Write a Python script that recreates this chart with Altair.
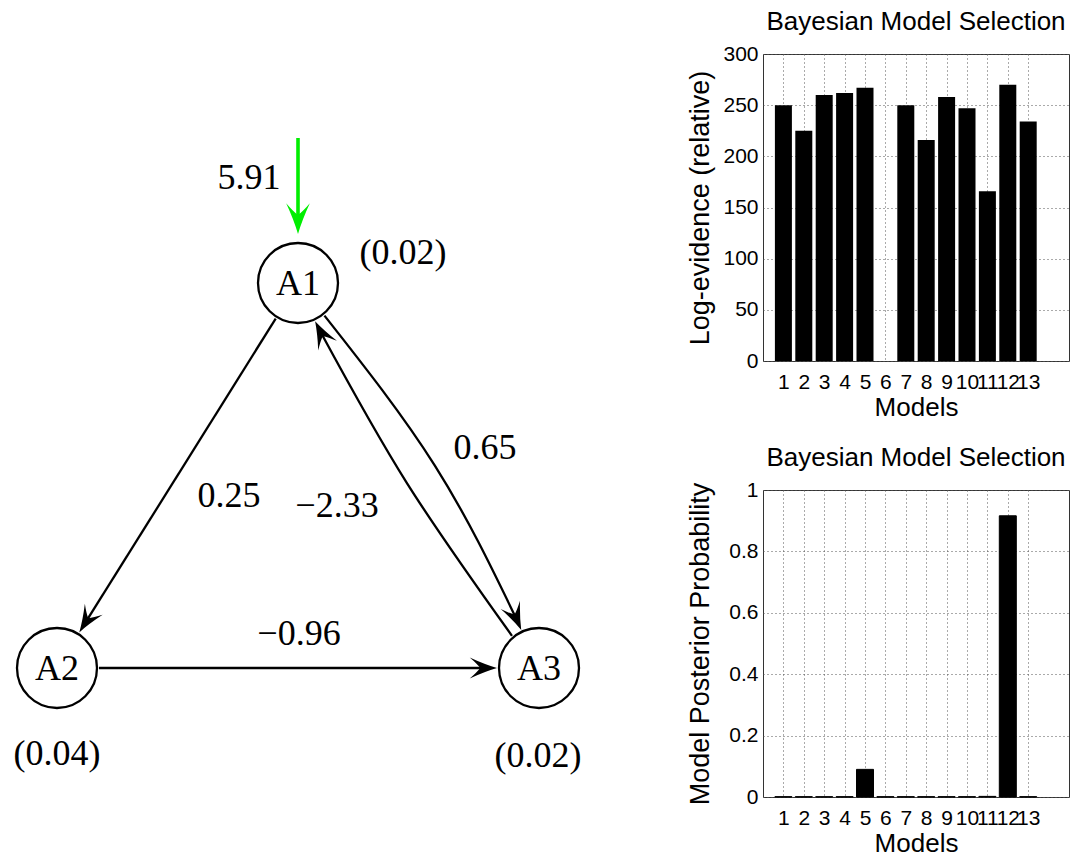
import math
import altair as alt
import pandas as pd

# ---------------- data ----------------
models = [1, 2, 3, 4, 5, 6, 7, 8, 9, 10, 11, 12, 13]
log_evidence = [250, 225, 260, 262, 267, 0, 250, 216, 258, 247, 166, 270, 234]
posterior = [0.001, 0.001, 0.001, 0.001, 0.09, 0.001, 0.001, 0.001, 0.001, 0.001, 0.002, 0.916, 0.001]

node_names = ["A1", "A2", "A3"]
self_conn = ["(0.02)", "(0.04)", "(0.02)"]
edge_from = ["A1", "A2", "A1", "A3"]
edge_to = ["A2", "A3", "A3", "A1"]
edge_weight = ["0.25", "\u22120.96", "0.65", "\u22122.33"]
input_node = "A1"
input_weight = "5.91"

# ---------------- diagram layout (page pixels) ----------------
node_x = [297, 56, 538]
node_y = [282, 667, 667]
self_x = [402, 56, 537]
self_y = [252, 753, 755]
edge_bend = [0, 0, 7, 8]        # degrees the ends are rotated (bend left)
edge_bulge = [0, 0, 14, 8]      # pixels of bulge at the middle
weight_x = [228, 298, 484, 336]
weight_y = [495, 633, 447, 505]
input_top = 137
input_gap = 49
input_label_x, input_label_y = 248, 177

R_NODE = 40
R_EDGE = 42
HEAD_BACK = 12
ARROW = "M0,0 Q-12,-3.5 -26,-10 Q-19,-4 -16,0 Q-19,4 -26,10 Q-12,3.5 0,0 Z"

LW, LH = 675, 780
X0 = 8          # page x of the diagram panel's left edge
Y0 = 53         # page y of the diagram panel's top edge (aligned with the bar plot top)
SERIF = "Liberation Serif"
SANS = "Liberation Sans"
DFONT = 36

pos = {n: (x, y) for n, x, y in zip(node_names, node_x, node_y)}

line_rows, head_rows = [], []
for k, (s, d) in enumerate(zip(edge_from, edge_to)):
    xs, ys = pos[s]
    xd, yd = pos[d]
    th = math.atan2(yd - ys, xd - xs)
    a = math.radians(edge_bend[k])
    sx, sy = xs + R_EDGE * math.cos(th - a), ys + R_EDGE * math.sin(th - a)
    tx, ty = xd + R_EDGE * math.cos(th + math.pi + a), yd + R_EDGE * math.sin(th + math.pi + a)
    cmx, cmy = (sx + tx) / 2, (sy + ty) / 2
    L = math.hypot(tx - sx, ty - sy)
    ux, uy = (tx - sx) / L, (ty - sy) / L
    nx, ny = uy, -ux
    mx, my = cmx + edge_bulge[k] * nx, cmy + edge_bulge[k] * ny
    cx, cy = 2 * mx - cmx, 2 * my - cmy
    dl = math.hypot(tx - cx, ty - cy)
    dx, dy = (tx - cx) / dl, (ty - cy) / dl
    ex, ey = tx - HEAD_BACK * dx, ty - HEAD_BACK * dy
    pts = [(sx, sy), (mx, my), (ex, ey)] if edge_bulge[k] else [(sx, sy), (ex, ey)]
    for i, (px, py) in enumerate(pts):
        line_rows.append({"edge": k, "seq": i, "x": px, "y": py})
    head_rows.append({"x": tx, "y": ty, "angle": math.degrees(math.atan2(dy, dx)) % 360})

ix, iy = pos[input_node]
input_tip = iy - input_gap
input_df = pd.DataFrame({"edge": [0, 0], "seq": [0, 1], "x": [ix, ix],
                         "y": [input_top, input_tip - HEAD_BACK]})
input_head_df = pd.DataFrame({"x": [ix], "y": [input_tip], "angle": [90]})

X = alt.X("x:Q", scale=alt.Scale(domain=[X0, X0 + LW], nice=False, zero=False), axis=None)
Y = alt.Y("y:Q", scale=alt.Scale(domain=[Y0, Y0 + LH], nice=False, zero=False, reverse=True), axis=None)

edges = alt.Chart(pd.DataFrame(line_rows)).mark_line(
    color="black", strokeWidth=2.3, interpolate="natural").encode(
    x=X, y=Y, detail="edge:N", order="seq:Q")
heads = alt.Chart(pd.DataFrame(head_rows)).mark_point(
    shape=ARROW, size=4.4, filled=True, color="black", opacity=1).encode(
    x=X, y=Y, angle=alt.Angle("angle:Q", scale=None))
inp = alt.Chart(input_df).mark_line(color="#00ee00", strokeWidth=3.6).encode(
    x=X, y=Y, detail="edge:N", order="seq:Q")
inp_head = alt.Chart(input_head_df).mark_point(
    shape=ARROW, size=5.6, filled=True, color="#00ee00", opacity=1).encode(
    x=X, y=Y, angle=alt.Angle("angle:Q", scale=None))

nodes_df = pd.DataFrame({"name": node_names, "x": node_x, "y": node_y})
circles = alt.Chart(nodes_df).mark_point(
    shape="circle", size=(2 * R_NODE) ** 2, filled=True, fill="white",
    stroke="black", strokeWidth=2.3, opacity=1).encode(x=X, y=Y)
node_text = alt.Chart(nodes_df).mark_text(
    font=SERIF, fontSize=DFONT, color="black", baseline="middle", align="center", dy=1).encode(
    x=X, y=Y, text="name:N")

self_df = pd.DataFrame({"label": self_conn, "x": self_x, "y": self_y})
self_text = alt.Chart(self_df).mark_text(
    font=SERIF, fontSize=DFONT, color="black", baseline="middle", align="center").encode(
    x=X, y=Y, text="label:N")

w_df = pd.DataFrame({"label": edge_weight + [input_weight],
                     "x": weight_x + [input_label_x], "y": weight_y + [input_label_y]})
w_text = alt.Chart(w_df).mark_text(
    font=SERIF, fontSize=DFONT, color="black", baseline="middle", align="center").encode(
    x=X, y=Y, text="label:N")

left = alt.layer(edges, heads, inp, inp_head, circles, node_text, self_text, w_text).properties(
    width=LW, height=LH, view=alt.ViewBackground(stroke="transparent"))


def bar_chart(values, ytitle, ydomain, yticks, fmt, stroke_w):
    df = pd.DataFrame({"model": models, "value": values})
    mark = alt.MarkDef(type="bar", size=17, color="black", stroke="black", strokeWidth=stroke_w)
    return alt.Chart(df, mark=mark).encode(
        x=alt.X("model:Q",
                scale=alt.Scale(domain=[0, 15], nice=False, zero=False, padding=0),
                axis=alt.Axis(values=models, title="Models", labelOverlap=False, labelFlush=False,
                              labelBound=False, labelPadding=10, titlePadding=2, titleFontSize=26)),
        y=alt.Y("value:Q",
                scale=alt.Scale(domain=ydomain, nice=False, padding=0),
                axis=alt.Axis(values=yticks, format=fmt, title=ytitle, labelPadding=5,
                              titlePadding=9, minExtent=40, maxExtent=40)),
    ).properties(
        width=306, height=307,
        title=alt.TitleParams("Bayesian Model Selection", font=SANS, fontSize=26,
                              fontWeight="normal", color="black", anchor="middle", offset=8),
        view=alt.ViewBackground(stroke="#333333", strokeWidth=1),
    )


top = bar_chart(log_evidence, "Log-evidence (relative)", [0, 300],
                [0, 50, 100, 150, 200, 250, 300], "d", 0)
bottom = bar_chart(posterior, "Model Posterior Probability", [0, 1],
                   [0, 0.2, 0.4, 0.6, 0.8, 1], "~g", 1)

right = alt.vconcat(top, bottom, spacing=23)

chart = alt.hconcat(left, right, spacing=0).properties(padding=0).configure_view(
    stroke="transparent").configure_axis(
    labelFont=SANS, labelFontSize=21, labelColor="black",
    titleFont=SANS, titleFontSize=27, titleFontWeight="normal", titleColor="black",
    domain=False, ticks=False, tickSize=0,
    grid=True, gridDash=[1, 3], gridColor="#555555", gridOpacity=1, gridWidth=1)

chart.save("out.html", embed_options={"renderer": "svg", "actions": False})
